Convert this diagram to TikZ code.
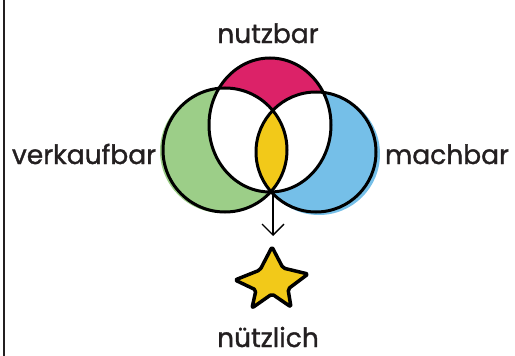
\documentclass[tikz,border=0pt]{standalone}
\usepackage{fontspec}
\setmainfont{Poppins}
\newfontfamily\lblfont{Poppins}[FakeBold=1.2]
\usetikzlibrary{arrows.meta,shapes.geometric}
\definecolor{ink}{HTML}{231F20}
\definecolor{vpink}{HTML}{DC2268}
\definecolor{vgreen}{HTML}{9CCE88}
\definecolor{vblue}{HTML}{75BFE8}
\definecolor{vyellow}{HTML}{F2C919}
\tikzset{
  lbl/.style={font=\lblfont\fontsize{26.5}{30}\selectfont, text=ink, anchor=base, inner sep=0pt},
  ring/.style={draw=black, line width=3pt},
}
\begin{document}
\begin{tikzpicture}[x=1pt,y=1pt]
\useasboundingbox (0,0) rectangle (515,-356);
% fills
\fill[vgreen] (222,-151) circle[radius=62];
\fill[vblue] (319,-154) circle[radius=61];
\fill[vpink] (270,-125) ellipse[x radius=61, y radius=67];
\begin{scope}
  \clip (270,-125) ellipse[x radius=61, y radius=67];
  \fill[white] (225,-150) circle[radius=62];
  \fill[white] (316,-152) circle[radius=60];
\end{scope}
\begin{scope}
  \clip (225,-150) circle[radius=62];
  \fill[vyellow] (316,-152) circle[radius=60];
\end{scope}
% outlines
\node[ring, ellipse, minimum width=122pt, minimum height=134pt, inner sep=0pt] (nut) at (270,-125) {};
\node[ring, circle, minimum size=124pt, inner sep=0pt] (ver) at (225,-150) {};
\node[ring, circle, minimum size=120pt, inner sep=0pt] (mac) at (316,-152) {};
% labels
\node[lbl] (tnut) at (268,-43) {nutzbar};
\node[lbl] (tver) at (84,-164) {verkaufbar};
\node[lbl] (tmac) at (447,-164) {machbar};
\node[lbl] (tnue) at (268,-347) {nützlich};
% arrow
\coordinate (meet) at (273,-193);
\coordinate (tip) at (273,-236);
\draw[line width=1.3pt, -{Straight Barb[length=11pt, width=22pt, line width=1.3pt]}] (meet) -- (tip);
% star
\draw[fill=vyellow, line width=3.5pt, line join=round, rounded corners=2pt]
  (272,-247) -- (283,-268) -- (308,-274) -- (288,-289) -- (291,-307) -- (272,-294)
  -- (252,-308) -- (256,-290) -- (235,-280) -- (260,-270) -- cycle;
% left frame line
\coordinate (ftop) at (4,0);
\coordinate (fbot) at (4,-356);
\draw[line width=2pt, ink] (ftop) -- (fbot);
\end{tikzpicture}
\end{document}
